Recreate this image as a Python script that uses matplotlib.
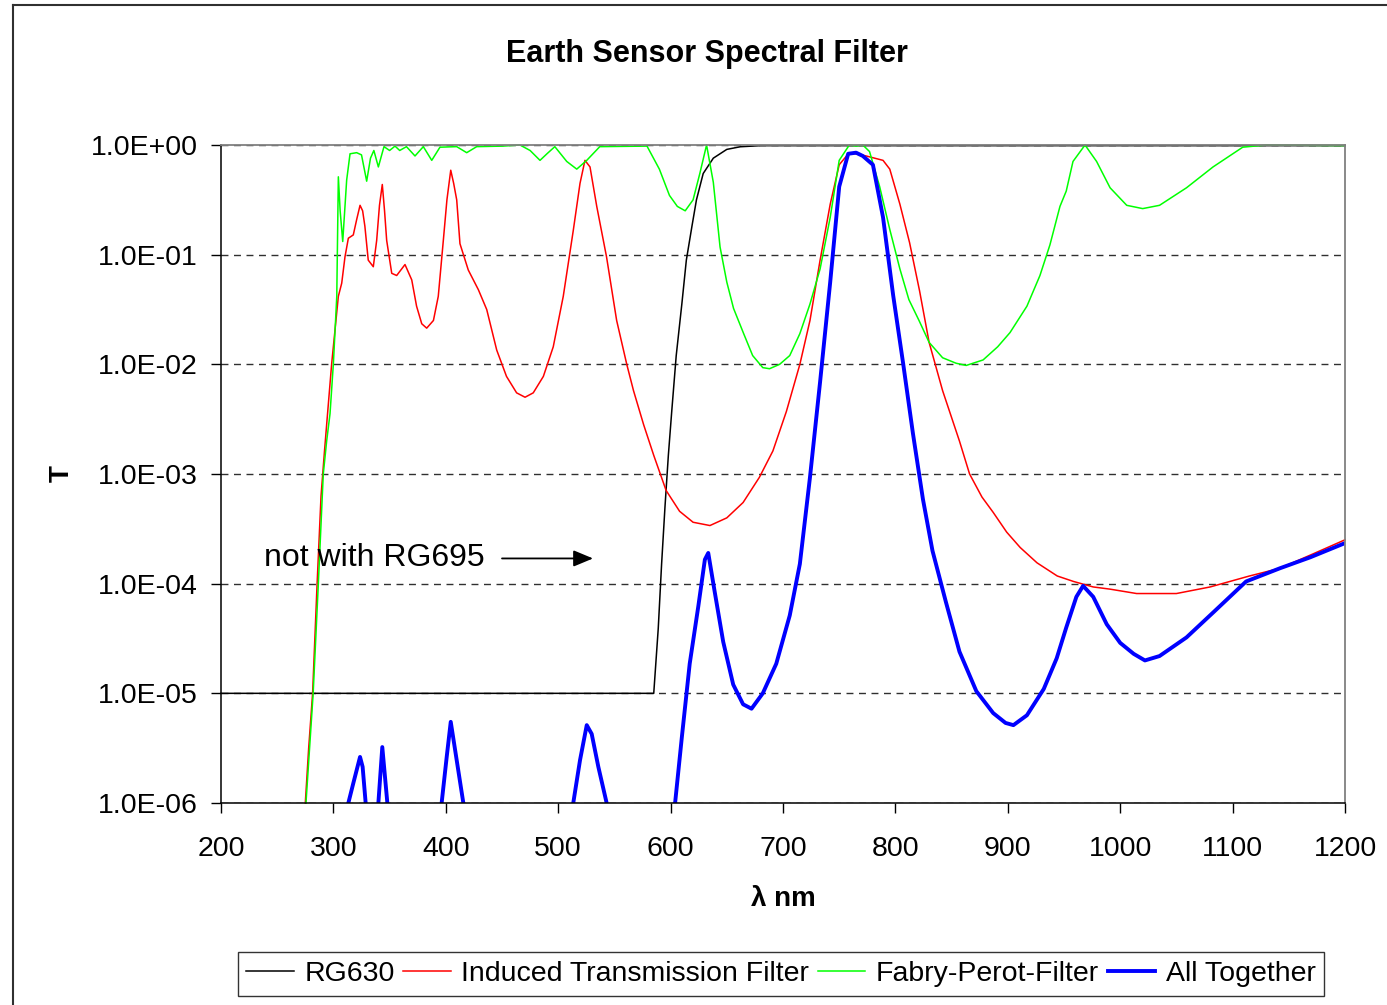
import numpy as np
import matplotlib
matplotlib.use("Agg")
import matplotlib.pyplot as plt
from matplotlib.ticker import FixedLocator, FixedFormatter, NullLocator
from matplotlib.lines import Line2D

plt.rcParams['font.family'] = ['Liberation Sans', 'DejaVu Sans']

# values, stored as log10(T)
rg630_nm = [200, 585, 589, 592, 595, 598, 601, 605, 610, 614, 619, 623, 629, 638, 650, 662, 680, 1200]
rg630_log = [-5.0, -5.0, -4.41, -3.82, -3.30, -2.83, -2.43, -1.92, -1.45, -1.05, -0.74, -0.50, -0.26,
             -0.12, -0.04, -0.016, -0.006, -0.006]

itf_nm = [275, 278, 281.5, 285.5, 289, 292, 296, 298.5, 301.4, 304.4, 307.4, 310.3, 313.3, 317.7,
          320.7, 323.7, 326, 328, 331, 335.5, 338.5, 341, 343.5, 345.5, 347.4, 351.9, 356.3, 360,
          363.7, 369.7, 374, 378.6, 383, 389, 393.3, 397.8, 401, 404.4, 407, 409.7, 412.6, 420, 429,
          436.4, 445.3, 454, 463, 470.5, 477.8, 486.8, 495.6, 504.5, 513.4, 519.4, 523.8, 528.3,
          534.3, 543, 552, 561, 567, 576, 585, 596, 608, 620, 635, 650, 664.5, 679, 691, 703, 715,
          724, 733, 742, 750, 759, 774, 789, 795, 804, 812.6, 821.5, 830, 842, 857, 866, 877, 887,
          899, 911, 926, 944, 958.5, 976, 991, 1014.6, 1050, 1080, 1115, 1142, 1169, 1200]
itf_log = [-6.0, -5.5, -5.0, -4.0, -3.2, -2.8, -2.3, -1.99, -1.69, -1.38, -1.26, -1.02, -0.85, -0.82,
           -0.68, -0.55, -0.60, -0.74, -1.05, -1.11, -0.87, -0.55, -0.36, -0.60, -0.87, -1.17, -1.19,
           -1.14, -1.09, -1.23, -1.47, -1.63, -1.67, -1.60, -1.38, -0.87, -0.50, -0.23, -0.35, -0.50,
           -0.90, -1.14, -1.32, -1.50, -1.87, -2.11, -2.26, -2.30, -2.26, -2.11, -1.84, -1.38, -0.78,
           -0.35, -0.14, -0.20, -0.56, -1.02, -1.60, -2.0, -2.24, -2.55, -2.83, -3.15, -3.34, -3.44,
           -3.47, -3.40, -3.26, -3.03, -2.79, -2.43, -2.0, -1.60, -1.05, -0.54, -0.18, -0.07, -0.10,
           -0.14, -0.22, -0.54, -0.89, -1.33, -1.80, -2.24, -2.70, -3.0, -3.21, -3.35, -3.53, -3.67,
           -3.81, -3.93, -3.98, -4.03, -4.05, -4.09, -4.09, -4.03, -3.93, -3.86, -3.74, -3.60]

fp_nm = [275.6, 282, 286.6, 291, 294, 297, 300, 303, 304.4, 306, 308.3, 311.8, 314.8, 320.7, 325,
         329.6, 333, 336, 340, 345, 350, 354.8, 359, 365, 372.6, 380, 387.5, 394.8, 409.7, 418.6,
         427.5, 451, 466, 475, 483.8, 490, 497, 507.6, 516.5, 525.4, 537, 579, 590, 599, 606, 613,
         620, 626, 632, 638, 644, 650, 656, 665, 673, 682, 688, 697, 706, 715, 724, 733, 742, 750,
         759, 765, 771, 777, 786, 795, 804, 812, 821, 830, 842, 854, 863, 878, 891, 902, 917, 928.6,
         937.5, 946.4, 952, 958, 968.7, 979, 991, 1005.8, 1020, 1035, 1059, 1082.6, 1109, 1130, 1200]
fp_log = [-6.0, -5.0, -4.0, -3.0, -2.7, -2.45, -1.99, -1.38, -0.29, -0.60, -0.88, -0.32, -0.08, -0.07,
          -0.09, -0.33, -0.12, -0.05, -0.20, -0.015, -0.05, -0.01, -0.05, -0.015, -0.10, -0.015, -0.14,
          -0.02, -0.015, -0.07, -0.015, -0.01, 0.0, -0.05, -0.14, -0.08, -0.015, -0.15, -0.22, -0.14,
          -0.015, -0.01, -0.22, -0.46, -0.56, -0.60, -0.50, -0.26, 0.0, -0.34, -0.93, -1.25, -1.49,
          -1.72, -1.92, -2.03, -2.04, -2.0, -1.92, -1.72, -1.45, -1.13, -0.66, -0.14, 0.0, -0.01, 0.0,
          -0.06, -0.38, -0.77, -1.13, -1.41, -1.60, -1.80, -1.94, -1.99, -2.01, -1.96, -1.84, -1.71,
          -1.47, -1.19, -0.91, -0.56, -0.42, -0.15, 0.0, -0.15, -0.39, -0.55, -0.58, -0.55, -0.39,
          -0.20, -0.02, 0.0, -0.005]

# nan separates the pieces that drop below 1e-6
all_nm = [313.3, 317.7, 323.7, 326, 328.7, np.nan,
          340, 343.5, 348, np.nan,
          396.3, 400.8, 404.4, 409.7, 415.6, np.nan,
          513.4, 519.4, 525.4, 529.8, 535.7, 543.1, np.nan,
          604, 610, 617, 624.6, 630.5, 633.5, 639, 646.8, 655.7, 664.5, 672, 682, 694, 706, 715,
          724, 733, 742, 750, 758, 765, 771, 780, 789, 798, 807, 815.6, 824.5, 833, 845, 857, 872,
          887, 898, 905, 917, 932, 943.5, 952, 961, 967, 976, 988, 1000, 1012, 1022, 1035, 1059,
          1083, 1112, 1142, 1169, 1200]
all_log = [-6.0, -5.82, -5.58, -5.67, -6.0, np.nan,
           -6.0, -5.49, -6.0, np.nan,
           -6.0, -5.58, -5.26, -5.61, -6.0, np.nan,
           -6.0, -5.61, -5.29, -5.37, -5.67, -6.0, np.nan,
           -6.0, -5.40, -4.73, -4.21, -3.78, -3.72, -4.06, -4.53, -4.92, -5.10, -5.14, -5.0, -4.73,
           -4.29, -3.82, -3.03, -2.16, -1.25, -0.38, -0.08, -0.07, -0.10, -0.18, -0.66, -1.37, -2.0,
           -2.63, -3.23, -3.70, -4.17, -4.62, -4.98, -5.18, -5.27, -5.29, -5.20, -4.96, -4.68, -4.40,
           -4.12, -4.02, -4.12, -4.37, -4.54, -4.64, -4.70, -4.66, -4.49, -4.26, -3.98, -3.86, -3.76,
           -3.63]

ytick_vals = [1e-6, 1e-5, 1e-4, 1e-3, 1e-2, 1e-1, 1e0]
ytick_labels = ['1.0E-06', '1.0E-05', '1.0E-04', '1.0E-03', '1.0E-02', '1.0E-01', '1.0E+00']
xtick_vals = [200, 300, 400, 500, 600, 700, 800, 900, 1000, 1100, 1200]

fig = plt.figure(figsize=(13.87, 10.05), dpi=100)
ax = fig.add_axes([221/1387, 1-803/1005, 1124/1387, 658/1005])

ax.plot(rg630_nm, 10**np.array(rg630_log), color='black', lw=1.1, label='RG630', clip_on=False)
ax.plot(itf_nm, 10**np.array(itf_log), color='#ff0000', lw=1.1, label='Induced Transmission Filter', clip_on=False)
ax.plot(fp_nm, 10**np.array(fp_log), color='#00ff00', lw=1.1, label='Fabry-Perot-Filter', clip_on=False)
ax.plot(all_nm, 10**np.array(all_log, dtype=float), color='#0000ff', lw=2.8, label='All Together')

ax.set_yscale('log')
ax.set_xlim(200, 1200)
ax.set_ylim(1e-6, 1)
ax.yaxis.set_major_locator(FixedLocator(ytick_vals))
ax.yaxis.set_major_formatter(FixedFormatter(ytick_labels))
ax.yaxis.set_minor_locator(NullLocator())
ax.set_xticks(xtick_vals)
ax.tick_params(axis='both', labelsize=20.5, length=7, width=1, direction='out')
ax.tick_params(axis='y', pad=10)
ax.tick_params(axis='x', pad=17)

ax.set_axisbelow(True)
ax.yaxis.grid(True, color='#303030', lw=1.0, linestyle=(0, (5, 4)))

for s in ['left', 'bottom']:
    ax.spines[s].set_color('black')
    ax.spines[s].set_linewidth(1.1)
for s in ['top', 'right']:
    ax.spines[s].set_color('#808080')
    ax.spines[s].set_linewidth(1.3)

# annotation with arrow
ax.text(238, 10**-3.77, 'not with RG695', fontsize=23, ha='left', va='center')
ax.annotate('', xy=(531, 10**-3.77), xytext=(450, 10**-3.77),
            arrowprops=dict(arrowstyle='-|>,head_length=0.6,head_width=0.25', mutation_scale=20,
                            lw=1.3, color='black', shrinkA=0, shrinkB=0))

fig.text(707/1387, 1-54/1005, 'Earth Sensor Spectral Filter', fontsize=22, fontweight='bold',
         ha='center', va='center')
fig.text(783/1387, 1-899/1005, 'λ nm', fontsize=20, fontweight='bold', ha='center', va='center')
fig.text(62/1387, 1-474/1005, 'T', fontsize=20, fontweight='bold', ha='center', va='center', rotation=90)

leg = ax.legend(loc='center', bbox_to_anchor=(781/1387, 1-974/1005), bbox_transform=fig.transFigure,
                ncol=4, fontsize=20.5, frameon=True, fancybox=False, edgecolor='black',
                handlelength=1.67, handletextpad=0.37, columnspacing=0.3, borderpad=0.3)
leg.get_frame().set_linewidth(1.0)

# outer chart border (only top and left show)
fig.add_artist(Line2D([13/1387, 13/1387], [0, 1-5/1005], color='#303030', lw=1.5))
fig.add_artist(Line2D([13/1387, 1], [1-5/1005, 1-5/1005], color='#303030', lw=1.5))

fig.savefig('out.png', dpi=100)
